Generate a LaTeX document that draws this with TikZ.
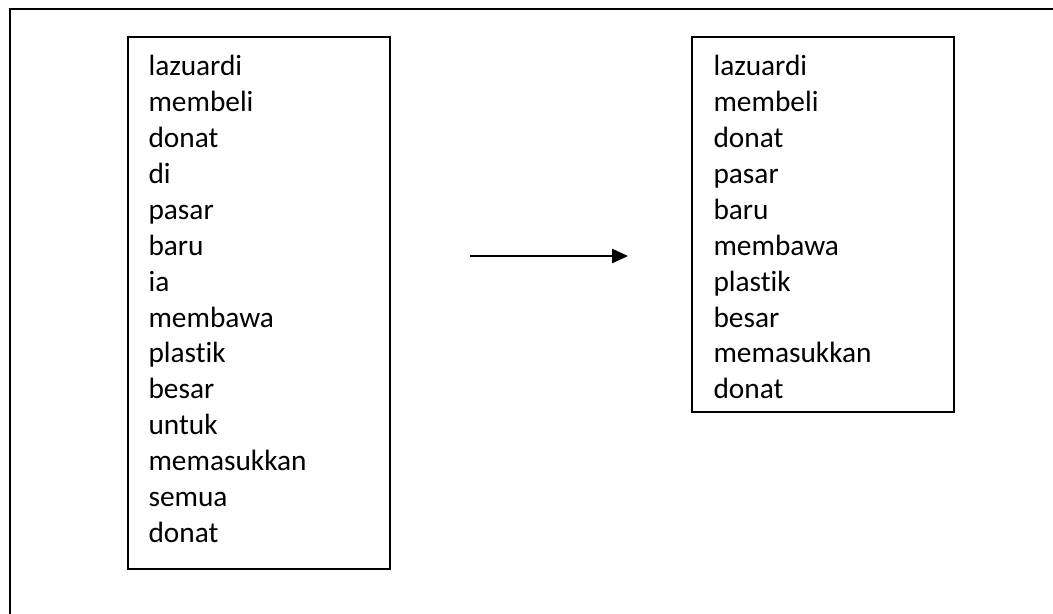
\documentclass[tikz,border=0pt]{standalone}
\usepackage{fontspec}
\setmainfont[Ligatures={NoCommon,NoRequired,NoContextual}]{Carlito}
\usetikzlibrary{arrows.meta}
\begin{document}
\begin{tikzpicture}[x=0.375pt,y=-0.375pt,
  frame/.style={draw=black,line width=0.75pt},
  wbox/.style={draw=black,line width=0.6pt},
  word/.style={anchor=base west,inner sep=0pt,font=\fontsize{11}{13.5}\selectfont},
  conn/.style={line width=0.6pt,-{Triangle[length=6pt,width=5.4pt]}}]
\clip (0,0) rectangle (1053,613);
\draw[frame] (10,9) rectangle (1080,640);
\draw[wbox] (128,37) rectangle (390,569);
\draw[wbox] (692,37) rectangle (954,412);
\foreach \w [count=\i] in {lazuardi,membeli,donat,di,pasar,baru,ia,membawa,plastik,besar,untuk,memasukkan,semua,donat}
  \node[word] (l\i) at (148,{75.7+(\i-1)*35.9}) {\w};
\foreach \w [count=\i] in {lazuardi,membeli,donat,pasar,baru,membawa,plastik,besar,memasukkan,donat}
  \node[word] (r\i) at (713,{75.7+(\i-1)*35.9}) {\w};
\coordinate (a1) at (470,256);
\coordinate (a2) at (628,256);
\draw[conn] (a1) -- (a2);
\end{tikzpicture}
\end{document}
